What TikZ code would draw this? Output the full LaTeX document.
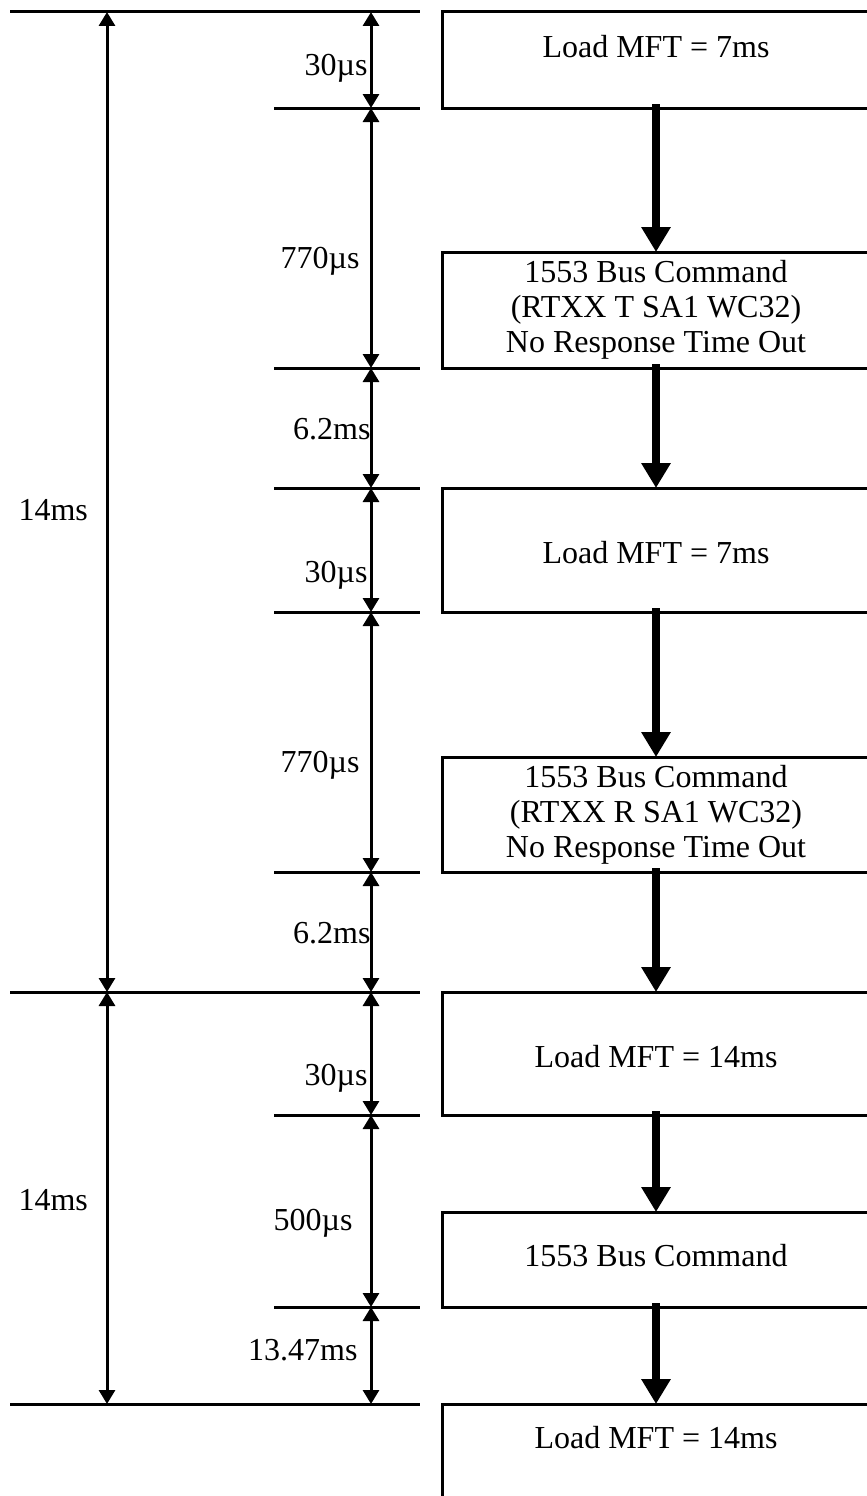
\documentclass[tikz,border=0pt]{standalone}
\usepackage{fontspec}
\setmainfont{Liberation Serif}
\usetikzlibrary{arrows.meta}
\tikzset{
  every picture/.style={line width=3pt},
  box/.style={draw, rectangle, minimum width=428pt, inner xsep=0pt, inner ysep=0pt, outer sep=0pt, align=center, anchor=north},
  flow/.style={-{Triangle[width=28pt, length=25pt]}, line width=8pt},
  dim/.style={{Triangle[width=16pt, length=14pt]}-{Triangle[width=16pt, length=14pt]}},
  lbl/.style={inner sep=0pt},
}

\begin{document}
\begin{tikzpicture}[x=1pt, y=-1pt, every node/.append style={font=\fontsize{32}{35}\selectfont}]
  \clip (0,0) rectangle (867,1496);
  % time levels
  \foreach \i/\y in {0/12, 1/108, 2/368, 3/488, 4/612, 5/872, 6/992, 7/1115, 8/1307, 9/1404}
    \coordinate (r\i) at (371,\y);
  \coordinate (l0) at (107,12);
  \coordinate (l6) at (107,992);
  \coordinate (l9) at (107,1404);
  \foreach \y in {12, 992, 1404} \draw (10,\y) -- (420,\y);
  \foreach \y in {108, 368, 488, 612, 872, 1115, 1307} \draw (274,\y) -- (420,\y);
  % dimension arrows
  \draw[dim] (l0) -- (l6);
  \draw[dim] (l6) -- (l9);
  \foreach \a/\b in {0/1, 1/2, 2/3, 3/4, 4/5, 5/6, 6/7, 7/8, 8/9}
    \draw[dim] (r\a) -- (r\b);
  % durations
  \node[lbl, anchor=base east] (t1) at (369,76) {30µs};
  \node[lbl, anchor=base east] (t2) at (361,268) {770µs};
  \node[lbl, anchor=base east] (t3) at (372,439) {6.2ms};
  \node[lbl, anchor=base east] (t4) at (369,582) {30µs};
  \node[lbl, anchor=base east] (t5) at (361,772) {770µs};
  \node[lbl, anchor=base east] (t6) at (372,943) {6.2ms};
  \node[lbl, anchor=base east] (t7) at (369,1085) {30µs};
  \node[lbl, anchor=base east] (t8) at (354,1230) {500µs};
  \node[lbl, anchor=base east] (t9) at (359,1360) {13.47ms};
  \node[lbl, anchor=base west] (f1) at (17,520) {14ms};
  \node[lbl, anchor=base west] (f2) at (17,1210) {14ms};
  % command boxes
  \node[box, text height=46pt, text depth=50pt] (mft1) at (656,12) {Load MFT = 7ms};
  \node[box, minimum height=116pt] (bus1) at (656,252) {1553 Bus Command\\(RTXX T SA1 WC32)\\No Response Time Out};
  \node[box, text height=75pt, text depth=49pt] (mft2) at (656,488) {Load MFT = 7ms};
  \node[box, minimum height=115pt] (bus2) at (656,757) {1553 Bus Command\\(RTXX R SA1 WC32)\\No Response Time Out};
  \node[box, text height=75pt, text depth=48pt] (mft3) at (656,992) {Load MFT = 14ms};
  \node[box, text height=54pt, text depth=41pt] (bus3) at (656,1212) {1553 Bus Command};
  \node[box, text height=44pt, text depth=80pt] (mft4) at (656,1404) {Load MFT = 14ms};
  \draw[flow] ([yshift=4pt]mft1.south) -- (bus1.north);
  \draw[flow] ([yshift=4pt]bus1.south) -- (mft2.north);
  \draw[flow] ([yshift=4pt]mft2.south) -- (bus2.north);
  \draw[flow] ([yshift=4pt]bus2.south) -- (mft3.north);
  \draw[flow] ([yshift=4pt]mft3.south) -- (bus3.north);
  \draw[flow] ([yshift=4pt]bus3.south) -- (mft4.north);
\end{tikzpicture}
\end{document}
